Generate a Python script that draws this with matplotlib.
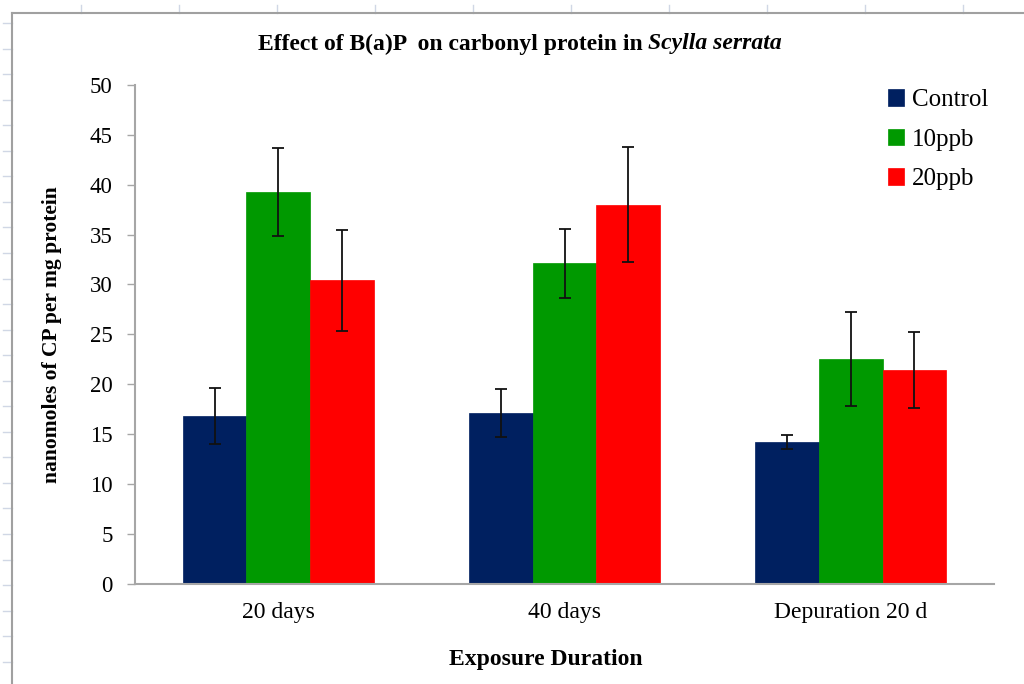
import numpy as np
import matplotlib.pyplot as plt
from matplotlib.lines import Line2D

plt.rcParams['font.family'] = ['Liberation Serif', 'DejaVu Serif']

# data
durations = ['20 days', '40 days', 'Depuration 20 d']
groups = ['Control', '10ppb', '20ppb']
control = [16.8, 17.1, 14.2]
ppb10 = [39.3, 32.1, 22.5]
ppb20 = [30.4, 38.0, 21.4]
control_err = [2.8, 2.4, 0.7]
ppb10_err = [4.4, 3.5, 4.7]
ppb20_err = [5.1, 5.8, 3.8]
colors = ['#002060', '#009900', '#ff0000']

W, H = 1024, 684
fig = plt.figure(figsize=(W / 100, H / 100), dpi=100)
ax = fig.add_axes([135 / W, 1 - 583.5 / H, 859 / W, (583.5 - 85) / H])

x = np.arange(len(durations))
bw = 1 / 4.5
series = [control, ppb10, ppb20]
errs = [control_err, ppb10_err, ppb20_err]
for i in range(3):
    ax.bar(x + (i - 1) * bw, series[i], bw, color=colors[i], edgecolor=colors[i],
           linewidth=0.5, label=groups[i], zorder=2)
    ax.errorbar(x + (i - 1) * bw, series[i], yerr=errs[i], fmt='none', ecolor='#111111',
                elinewidth=1.3, capsize=4, capthick=1.3, zorder=3)

ax.set_xlim(-0.5, 2.5)
ax.set_ylim(0, 50)
ax.set_yticks(np.arange(0, 51, 5))
ax.set_xticks(x)
ax.set_xticklabels(durations, fontsize=17)
ax.tick_params(axis='y', labelsize=16.5, length=6, width=1, color='#a6a6a6', pad=10)
ax.tick_params(axis='x', length=0, pad=13)
for s in ['top', 'right']:
    ax.spines[s].set_visible(False)
for s in ['left', 'bottom']:
    ax.spines[s].set_color('#a6a6a6')
    ax.spines[s].set_linewidth(1.5)

ax.set_ylabel('nanomoles of CP per mg protein', fontsize=15.5, fontweight='bold', labelpad=20)
ax.set_xlabel('Exposure Duration', fontsize=17, fontweight='bold', va='center')
ax.xaxis.set_label_coords((546 - 135) / 859, -(659 - 583.5) / 498.5)

# title: upright part + italic species name, centred together
ty = 1 - 44 / H
t1 = fig.text(0, ty, 'Effect of B(a)P  on carbonyl protein in ', ha='left', va='center',
              fontsize=17, fontweight='bold')
t2 = fig.text(0, ty, 'Scylla serrata', ha='left', va='center',
              fontsize=17, fontweight='bold', style='italic')
r = fig.canvas.get_renderer()
w1 = t1.get_window_extent(r).width
w2 = t2.get_window_extent(r).width
x0 = 520 - (w1 + w2) / 2
t1.set_x(x0 / W)
t2.set_x((x0 + w1) / W)

ax.legend(loc='upper left', bbox_to_anchor=(888 / W, 1 - 89 / H), bbox_transform=fig.transFigure,
          frameon=False, fontsize=18, handlelength=0.65, handleheight=0.65, handletextpad=0.3,
          labelspacing=0.7, borderaxespad=0, borderpad=0)

# spreadsheet border and cell gridlines behind the chart
grid_c = '#d0d7e5'
for gx in np.arange(81, W, 98):
    fig.add_artist(Line2D([gx / W, gx / W], [1 - 5 / H, 1 - 13 / H], color=grid_c, lw=1))
for gy in np.arange(23, H, 25.55):
    fig.add_artist(Line2D([3 / W, 12 / W], [1 - gy / H, 1 - gy / H], color=grid_c, lw=1))
fig.add_artist(Line2D([12 / W, 1], [1 - 13 / H, 1 - 13 / H], color='#a0a0a0', lw=1.5))
fig.add_artist(Line2D([12 / W, 12 / W], [1 - 13 / H, 0], color='#a0a0a0', lw=1.5))

fig.savefig('out.png', dpi=100)
